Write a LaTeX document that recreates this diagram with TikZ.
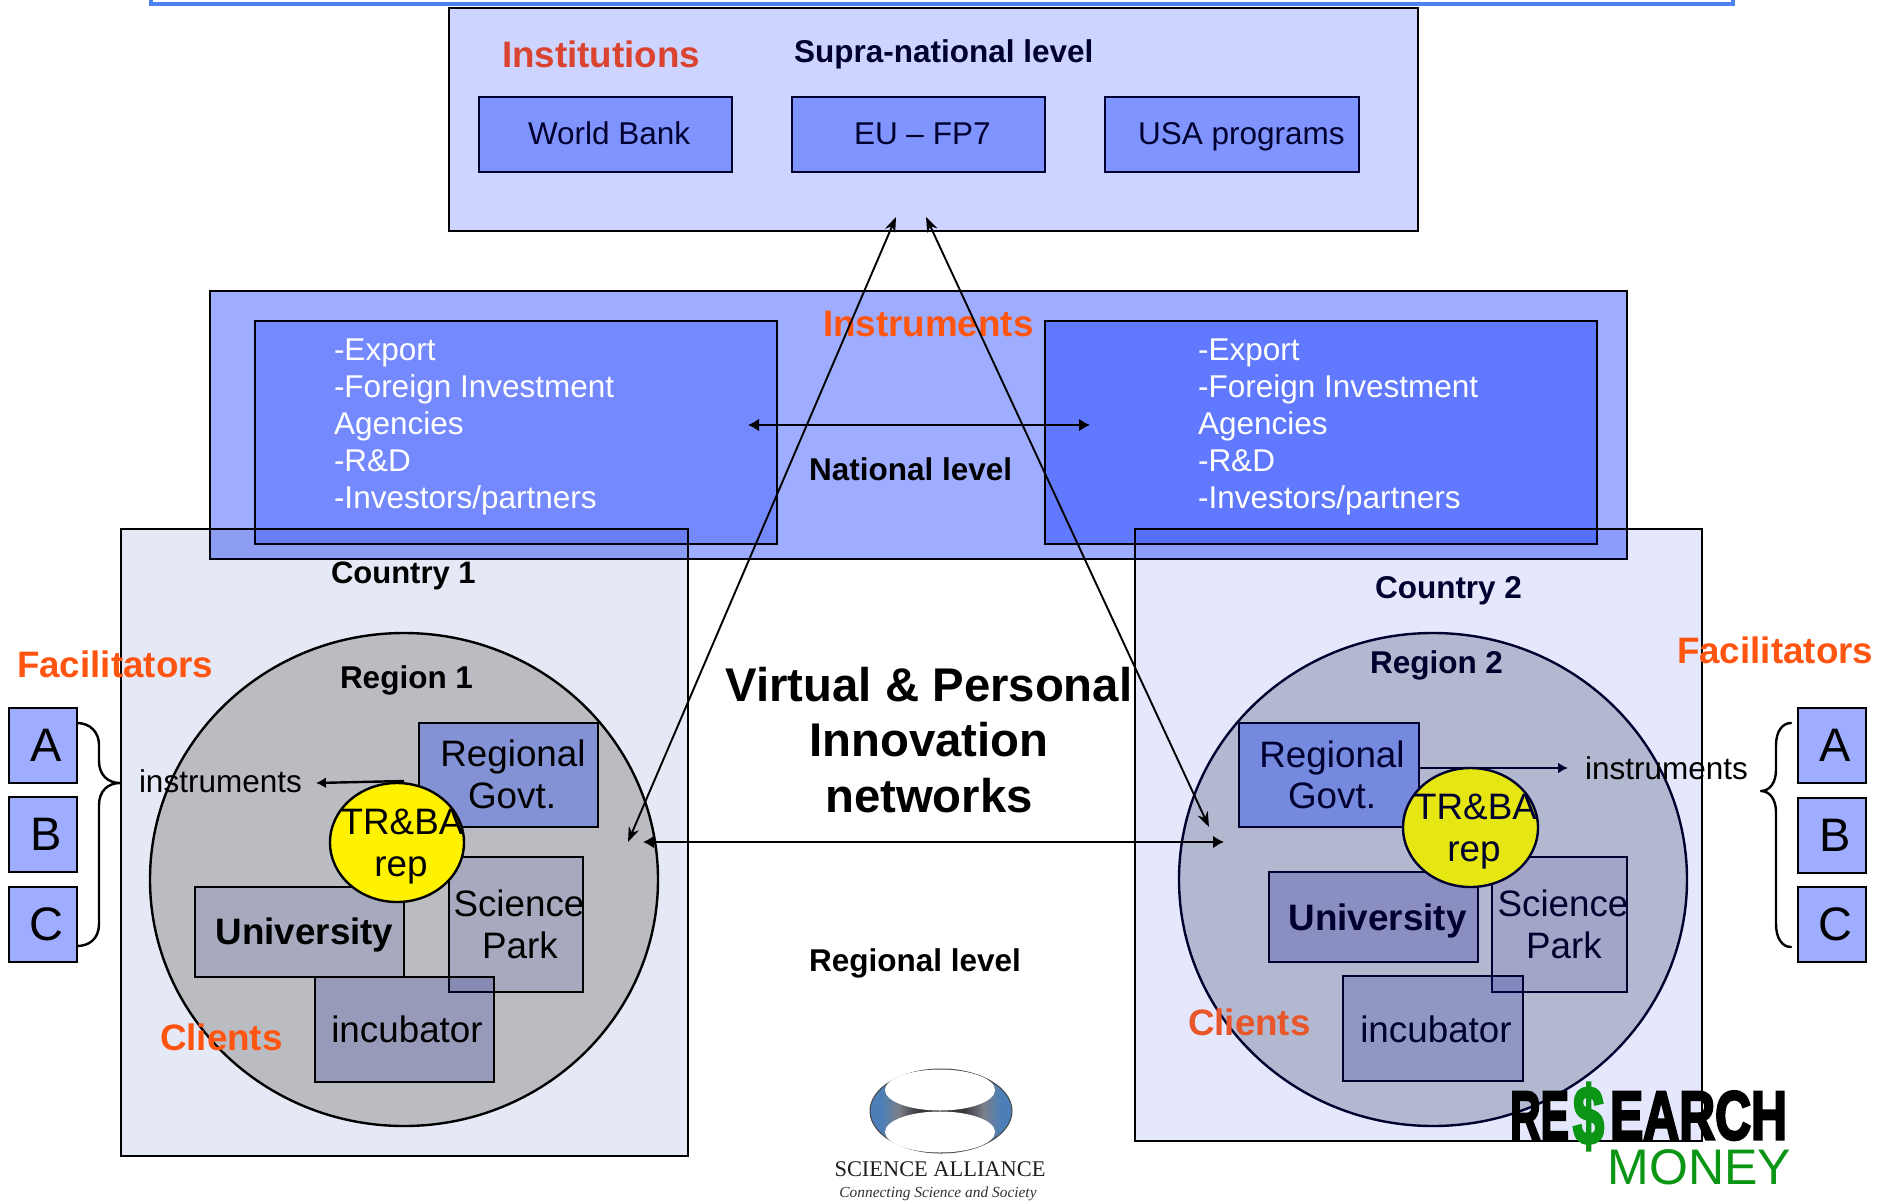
\documentclass[tikz,border=0pt]{standalone}
\usepackage{fontspec}
\setmainfont{Liberation Sans}
\newfontfamily\serifface{Liberation Serif}
\newfontfamily\heavyface[FakeBold=4]{Liberation Sans Bold}
\usetikzlibrary{arrows.meta,shapes.geometric}
\definecolor{navy}{HTML}{00002E}
\definecolor{toph}{HTML}{4D80F0}
\definecolor{orng}{HTML}{FF5510}
\definecolor{logoblue}{HTML}{4C7FB8}
\definecolor{logogrey}{HTML}{7A7F88}
\definecolor{logodark}{HTML}{38383C}
\pgfdeclarehorizontalshading{salogo}{100bp}{color(0bp)=(logoblue);color(25bp)=(logoblue);color(29bp)=(logoblue);color(35bp)=(logogrey);color(42bp)=(logodark);color(58bp)=(logodark);color(65bp)=(logogrey);color(71bp)=(logoblue);color(75bp)=(logoblue);color(100bp)=(logoblue)}
\tikzset{
  frame/.style={draw=black,line width=2.5pt,inner sep=0pt,outer sep=0pt,rectangle},
  oval/.style={draw=black,line width=2.4pt,inner sep=0pt,outer sep=0pt,ellipse},
  thinarrow/.style={line width=1.9pt,{Stealth[length=15pt,width=11pt]}-{Stealth[length=15pt,width=11pt]}},
  thickarrow/.style={line width=2.8pt,{Latex[length=11pt,width=13pt]}-{Latex[length=11pt,width=13pt]}},
  onearrow/.style={line width=2.4pt,-{Latex[length=10pt,width=11pt]}},
  brace/.style={line width=2.4pt,line cap=round,line join=round},
  tx/.style={inner sep=0pt,outer sep=0pt,anchor=base west},
  txc/.style={inner sep=0pt,outer sep=0pt,anchor=base},
  small/.style={font=\fontsize{31.5}{37}\selectfont},
  smallb/.style={font=\bfseries\fontsize{31.5}{37}\selectfont},
  big/.style={font=\fontsize{36.8}{42}\selectfont},
  bigb/.style={font=\bfseries\fontsize{36.8}{42}\selectfont},
  hdr/.style={font=\bfseries\fontsize{36.8}{42}\selectfont,text=orng},
}
\newcommand\rbox[6]{\node[frame,#6,minimum width={(#4-#2)*1pt},minimum height={(#5-#3)*1pt}] (#1) at ({(#2+#4)/2},{(#3+#5)/2}) {};}
\newcommand\abox[7]{\node[frame,#6,minimum width={(#4-#2)*1pt},minimum height={(#5-#3)*1pt},font=\fontsize{47}{50}\selectfont] (#1) at ({(#2+#4)/2},{(#3+#5)/2}) {\hspace*{7pt}#7};}
\begin{document}
\begin{tikzpicture}[x=1pt,y=-1pt]
\useasboundingbox (0,0) rectangle (1892,1202);
% top rule
\coordinate (tl) at (151,-4);
\coordinate (tr) at (1733,-4);
\draw[toph,line width=3.5pt] (tl) |- (tr |- 0,4) -- (tr);
% supra-national
\rbox{supra}{449}{8}{1418}{231}{fill={rgb,255:red,204;green,212;blue,255}}
\rbox{wb}{479}{97}{732}{172}{fill={rgb,255:red,128;green,148;blue,255},draw=navy}
\rbox{eu}{792}{97}{1045}{172}{fill={rgb,255:red,128;green,148;blue,255},draw=navy}
\rbox{usa}{1105}{97}{1359}{172}{fill={rgb,255:red,128;green,148;blue,255},draw=navy}
\node[tx,hdr,text={rgb,255:red,217;green,67;blue,47}] (inst) at (502,67) {Institutions};
\node[tx,smallb,text=navy] (supral) at (794,62) {Supra-national level};
\node[tx,small,text=navy] (wbt) at (528,144) {World Bank};
\node[tx,small,text=navy] (eut) at (854,144) {EU – FP7};
\node[tx,small,text=navy] (usat) at (1138,144) {USA programs};
% national
\rbox{nat}{210}{291}{1627}{559}{fill={rgb,255:red,158;green,173;blue,255}}
\rbox{inl}{255}{321}{777}{544}{fill={rgb,255:red,117;green,137;blue,255}}
\rbox{inr}{1045}{321}{1597}{544}{fill={rgb,255:red,96;green,121;blue,255}}
\node[tx,small,text=white,align=left,anchor=base west] (listl) at (334,508) {-Export\\-Foreign Investment\\Agencies\\-R\&D\\-Investors/partners};
\node[tx,small,text=white,align=left,anchor=base west] (listr) at (1198,508) {-Export\\-Foreign Investment\\Agencies\\-R\&D\\-Investors/partners};
\node[tx,hdr] (instr) at (823,336) {Instruments};
\node[tx,smallb] (natl) at (809,480) {National level};
\coordinate (dl) at (748,425);
\coordinate (dr) at (1090,425);
\draw[thickarrow] (dl) -- (dr);
% countries
\rbox{c1}{121}{529}{688}{1156}{fill={rgb,255:red,0;green,25;blue,155},fill opacity=.1}
\rbox{c2}{1135}{529}{1702}{1141}{fill={rgb,255:red,0;green,25;blue,235},fill opacity=.1}
\node[tx,font=\bfseries\fontsize{31}{37}\selectfont] (c1t) at (331,583) {Country 1};
\node[tx,smallb,text=navy] (c2t) at (1375,598) {Country 2};
% regions
\node[oval,fill={rgb,255:red,187;green,188;blue,194},minimum width=508pt,minimum height=493pt] (r1) at (404,879.5) {};
\node[oval,draw=navy,fill={rgb,255:red,178;green,184;blue,207},minimum width=508pt,minimum height=493pt] (r2) at (1433,879.5) {};
\node[tx,smallb] (r1t) at (340,688) {Region 1};
\node[tx,smallb,text=navy] (r2t) at (1370,673) {Region 2};
% left region contents
\rbox{g1}{419}{723}{598}{827}{fill={rgb,255:red,131;green,145;blue,213}}
\rbox{u1}{195}{887}{404}{977}{fill={rgb,255:red,0;green,20;blue,160},fill opacity=.1}
\rbox{s1}{449}{857}{583}{992}{fill={rgb,255:red,0;green,20;blue,160},fill opacity=.1}
\rbox{i1}{315}{977}{494}{1082}{fill={rgb,255:red,0;green,10;blue,142},fill opacity=.19}
\coordinate (a1s) at (404,781);
\coordinate (a1e) at (316,783);
\draw[onearrow] (a1s) -- (a1e);
\node[oval,fill=yellow,minimum width=134pt,minimum height=119pt] (t1) at (397,842.5) {};
% right region contents
\rbox{g2}{1239}{723}{1419}{827}{fill={rgb,255:red,117;green,137;blue,222},draw=navy}
\rbox{u2}{1269}{872}{1478}{962}{fill={rgb,255:red,138;green,142;blue,193},draw=navy}
\rbox{s2}{1492}{857}{1627}{992}{fill={rgb,255:red,163;green,165;blue,200},draw=navy}
\rbox{i2}{1343}{976}{1523}{1081}{fill={rgb,255:red,0;green,10;blue,142},fill opacity=.19,draw=navy}
\coordinate (a2s) at (1419,768);
\coordinate (a2e) at (1568,768);
\draw[onearrow,navy] (a2s) -- (a2e);
\node[oval,draw=navy,fill={rgb,255:red,230;green,230;blue,18},minimum width=135pt,minimum height=119pt] (t2) at (1470.5,827.5) {};
% region texts
\node[txc,big] (g1a) at (513,766) {Regional};
\node[txc,big] (g1b) at (512,808) {Govt.};
\node[txc,big] (t1a) at (402,834) {TR\&BA};
\node[txc,big] (t1b) at (401,876) {rep};
\node[txc,bigb] (u1t) at (304.5,944) {University};
\node[txc,big] (s1a) at (519,916) {Science};
\node[txc,big] (s1b) at (520,958) {Park};
\node[txc,big] (i1t) at (407,1042) {incubator};
\node[txc,big,text=navy] (g2a) at (1332,767) {Regional};
\node[txc,big,text=navy] (g2b) at (1332,808) {Govt.};
\node[txc,big,text=navy] (t2a) at (1475.5,819) {TR\&BA};
\node[txc,big,text=navy] (t2b) at (1474,861) {rep};
\node[txc,bigb,text=navy] (u2t) at (1377.5,930) {University};
\node[txc,big,text=navy] (s2a) at (1563,916) {Science};
\node[txc,big,text=navy] (s2b) at (1564,958) {Park};
\node[txc,big,text=navy] (i2t) at (1436,1042) {incubator};
% facilitators
\node[tx,hdr] (f1) at (17,677) {Facilitators};
\node[tx,hdr] (f2) at (1677,663) {Facilitators};
\node[tx,hdr] (cl1) at (160,1050) {Clients};
\node[tx,hdr,text={rgb,255:red,232;green,86;blue,42}] (cl2) at (1188,1035) {Clients};
\node[tx,small] (ins1) at (139,792) {instruments};
\node[tx,small] (ins2) at (1585,779) {instruments};
\abox{a1}{9}{708}{77}{783}{fill={rgb,255:red,158;green,173;blue,255}}{A}
\abox{b1}{9}{797}{77}{872}{fill={rgb,255:red,158;green,173;blue,255}}{B}
\abox{c1b}{9}{887}{77}{962}{fill={rgb,255:red,158;green,173;blue,255}}{C}
\abox{a2}{1798}{708}{1866}{783}{fill={rgb,255:red,158;green,173;blue,255}}{A}
\abox{b2}{1798}{798}{1866}{873}{fill={rgb,255:red,158;green,173;blue,255}}{B}
\abox{c2b}{1798}{887}{1866}{962}{fill={rgb,255:red,158;green,173;blue,255}}{C}
\coordinate (bl1) at (77,723);
\coordinate (bl2) at (120,783);
\coordinate (bl3) at (77,946);
\draw[brace] (bl1) .. controls (90,723) and (99,732) .. (99,745) -- (99,761) .. controls (99,775) and (108,783) .. (bl2)
  .. controls (108,783) and (99,791) .. (99,805) -- (99,924) .. controls (99,938) and (90,946) .. (bl3);
\coordinate (br1) at (1791,723);
\coordinate (br2) at (1761,791);
\coordinate (br3) at (1791,947);
\draw[brace] (br1) .. controls (1782,723) and (1776,732) .. (1776,745) -- (1776,770) .. controls (1776,782) and (1770,791) .. (br2)
  .. controls (1770,791) and (1776,800) .. (1776,812) -- (1776,924) .. controls (1776,938) and (1782,947) .. (br3);
% centre
\node[txc,align=center,font=\bfseries\fontsize{47.3}{55.5}\selectfont] (vp) at (929,812) {Virtual \& Personal\\Innovation\\networks};
\node[tx,smallb] (regl) at (809,971) {Regional level};
% long arrows
\coordinate (lt) at (896,217);
\coordinate (lb) at (628,842);
\coordinate (rt) at (926,217);
\coordinate (rb) at (1209,827);
\draw[thinarrow] (lt) -- (lb);
\draw[thinarrow] (rt) -- (rb);
\coordinate (ml) at (643,842);
\coordinate (mr) at (1224,842);
\draw[thickarrow] (ml) -- (mr);
% logos
\node[oval,draw={rgb,255:red,70;green,70;blue,70},line width=1pt,shading=salogo,minimum width=142pt,minimum height=84pt] (sa) at (941,1111) {};
\node[ellipse,fill=white,inner sep=0pt,minimum width=110pt,minimum height=41pt] (sat) at (940,1090) {};
\node[ellipse,fill=white,inner sep=0pt,minimum width=110pt,minimum height=41pt] (sab) at (940,1132) {};
\node[txc,font=\serifface\fontsize{22.4}{26}\selectfont,text={rgb,255:red,30;green,30;blue,30}] (sat1) at (940,1176) {SCIENCE ALLIANCE};
\node[txc,font=\serifface\itshape\fontsize{15.4}{18}\selectfont,text={rgb,255:red,50;green,50;blue,50}] (sat2) at (938,1197) {Connecting Science and Society};
\node[tx,anchor=south west,text=black] (re1) at (1510,1140) {\resizebox{59pt}{48pt}{\heavyface RE}};
\node[tx,anchor=center,text={rgb,255:red,10;green,150;blue,20}] (dol) at (1588.5,1116.5) {\resizebox*{31pt}{67pt}{\heavyface\$}};
\node[tx,anchor=south west,text=black] (re2) at (1610,1140) {\resizebox{177pt}{48pt}{\heavyface EARCH}};
\node[tx,anchor=south east,text={rgb,255:red,10;green,150;blue,20},font=\fontsize{50}{52}\selectfont] (mon) at (1791,1185) {MONEY};
\end{tikzpicture}
\end{document}
